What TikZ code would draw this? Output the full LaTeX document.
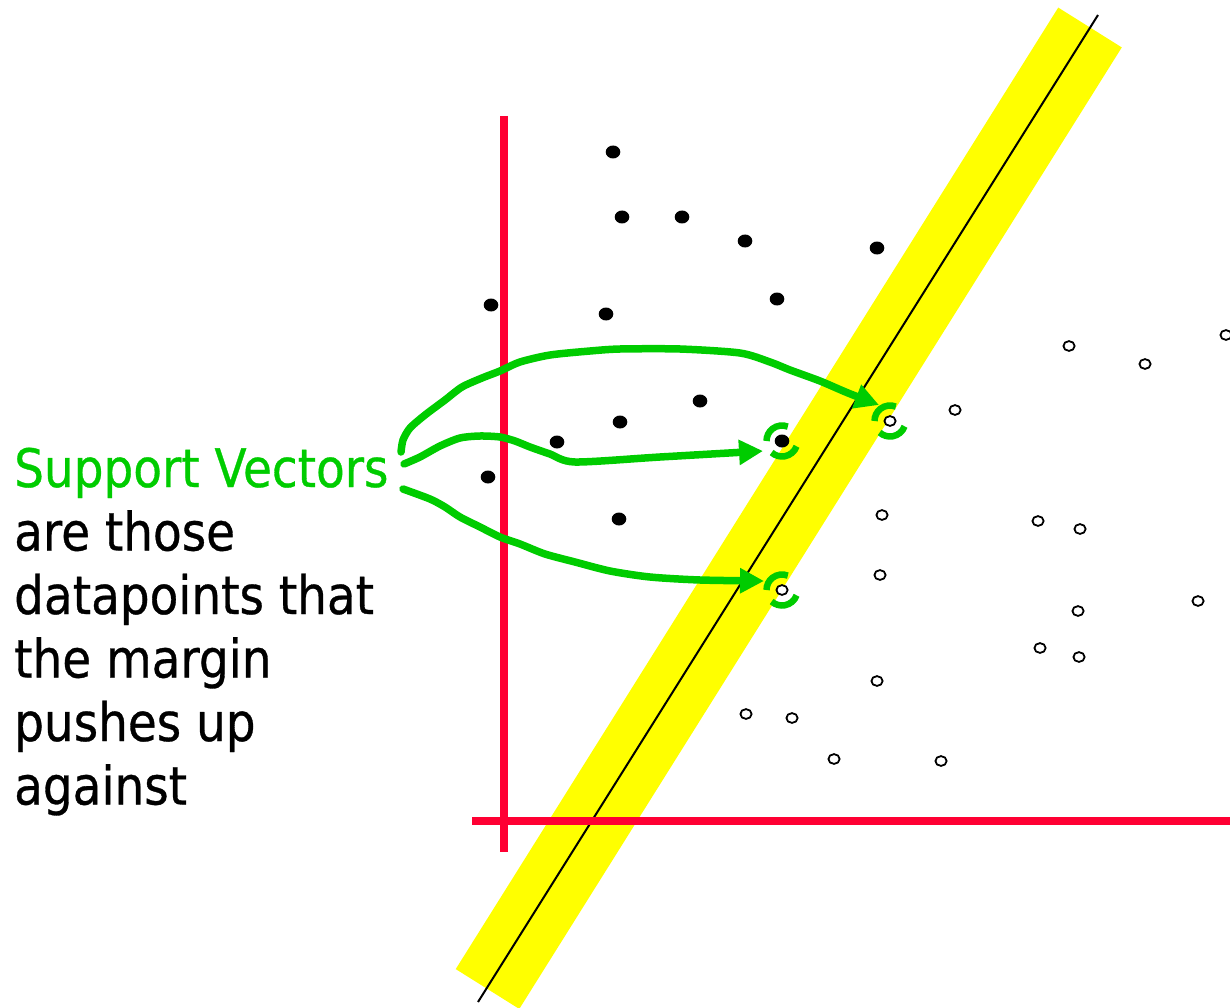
\documentclass[tikz,border=0pt]{standalone}
\usepackage{fontspec}
\newfontfamily\labelfont[FakeStretch=0.885,FakeBold=0.6]{DejaVu Sans}
\usetikzlibrary{arrows.meta}
\definecolor{svgreen}{HTML}{00CC00}
\definecolor{axisred}{HTML}{FF0033}
\definecolor{bandyellow}{HTML}{FFFF00}
\begin{document}
\begin{tikzpicture}[x=1pt,y=1pt,
  band/.style={bandyellow, line width=75pt},
  hyper/.style={black, line width=2pt},
  axisline/.style={axisred, line width=8pt},
  negpt/.style={draw=black, fill=white, line width=1.8pt},
  svarc/.style={svgreen, line width=6.5pt},
  svarrow/.style={svgreen, line width=7.5pt, line join=round, line cap=round,
    -{Triangle[length=24pt,width=24pt]}},
  lbl/.style={anchor=base west, inner sep=0pt, font=\labelfont\fontsize{53}{63.5}\selectfont},
]
\useasboundingbox (0,0) rectangle (1230,-1008);
% margin band
\begin{scope}
\clip (0,0) rectangle (1230,-1008);
\draw[band] (1090,-27.5) -- (487.5,-989);
\end{scope}
% separating line
\draw[hyper] (1098,-15) -- (478,-1002);
% axes
\draw[axisline] (504,-116) -- (504,-852);
\draw[axisline] (472,-820.5) -- (1240,-820.5);
% positive points
\foreach \px/\py in {613/152,622/217,682/217,745/241,877/248,491/305,606/314,777/299,
  700/401,620/422,557/442,782/441,488/477,619/519}
  \fill (\px,-\py) ellipse [x radius=7.3pt, y radius=6.5pt];
% negative points
\foreach \px/\py in {1069/346,1145/364,1226/335,955/410,890/421,882/515,1038/521,1080/529,
  880/575,782/590,1078/611,1198/601,1040/648,1079/657,877/681,746/714,792/718,834/759,941/761}
  \draw[negpt] (\px,-\py) ellipse [x radius=5.6pt, y radius=4.9pt];
% support vectors
\coordinate (sv1) at (890,-421);
\coordinate (sv2) at (782,-441);
\coordinate (sv3) at (782,-590);
\foreach \c in {sv1,sv2,sv3}{
  \draw[svarc] ([shift={(68:15.5pt)}]\c) arc[start angle=68, end angle=180, radius=15.5pt];
  \draw[svarc] ([shift={(-20:15.5pt)}]\c) arc[start angle=-20, end angle=-132, radius=15.5pt];
}
% label
\node[lbl, text=svgreen] (sv) at (14,-487) {Support Vectors};
\node[lbl] (l1) at (14,-550.5) {are those};
\node[lbl] (l2) at (14,-614) {datapoints that};
\node[lbl] (l3) at (14,-677.5) {the margin};
\node[lbl] (l4) at (14,-741) {pushes up};
\node[lbl] (l5) at (14,-804.5) {against};
% connectors
\coordinate (s1) at (401,-452);
\coordinate (s2) at (404,-464);
\coordinate (s3) at (403,-489);
\coordinate (t1) at (879,-405);
\coordinate (t2) at (763,-451);
\coordinate (t3) at (764,-581);
\draw[svarrow] plot[smooth, tension=0.45] coordinates {(s1) (403,-440) (410,-428) (425,-415)
  (445,-400) (462,-387) (482,-378) (500,-371) (520,-362) (550,-355) (590,-351) (620,-349)
  (680,-349) (740,-353) (770,-362) (790,-370) (820,-381) (848,-393) (t1)};
\draw[svarrow] plot[smooth, tension=0.45] coordinates {(s2) (420,-457) (440,-446) (460,-438)
  (480,-436) (500,-437) (515,-441) (530,-447) (550,-454) (575,-462) (660,-457) (t2)};
\draw[svarrow] plot[smooth, tension=0.45] coordinates {(s3) (430,-499) (445,-507) (460,-517)
  (480,-527) (500,-537) (520,-544) (545,-554) (575,-562) (610,-571) (650,-577) (700,-580) (t3)};
\end{tikzpicture}
\end{document}
